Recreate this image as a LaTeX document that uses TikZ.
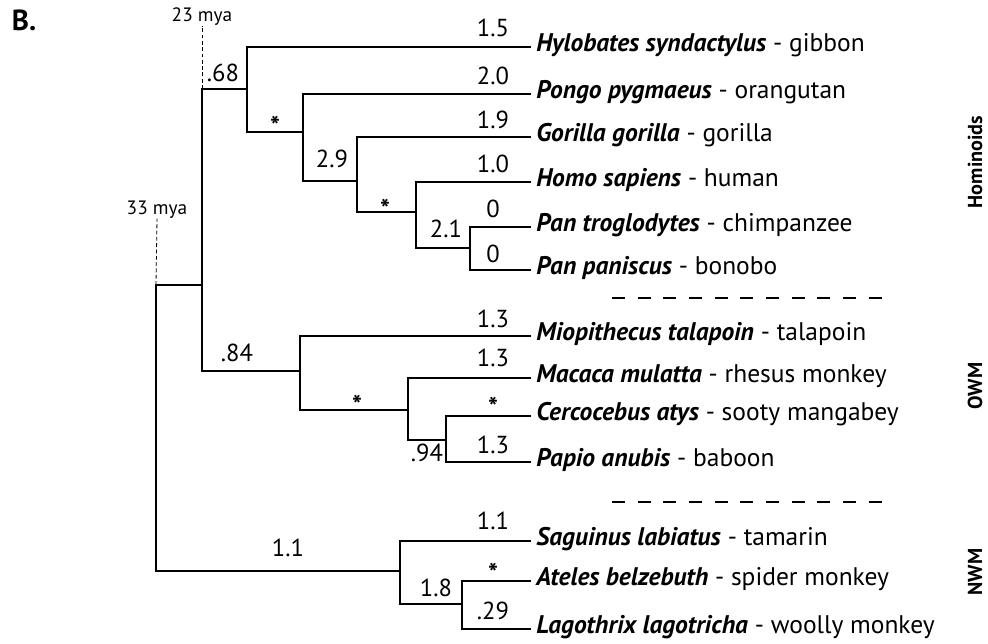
\documentclass[tikz,border=0pt]{standalone}
\usepackage{fontspec}
\setmainfont{PT Sans}
\tikzset{
  branch/.style={line width=0.75pt,line cap=rect},
  age/.style={dash pattern=on 2.2pt off 1.4pt,line width=0.45pt},
  sep/.style={dash pattern=on 7.4pt off 7.2pt,line width=0.75pt},
  sp/.style={anchor=base west,inner sep=0pt,xshift=3.4pt,yshift=-2.3pt,
    font=\fontsize{14.5}{16}\selectfont},
  len/.style={anchor=base,inner sep=0pt,font=\fontsize{14}{16}\selectfont},
  star/.style={anchor=north,inner sep=0pt,font=\fontsize{15}{16}\selectfont\bfseries},
  mya/.style={anchor=base,inner sep=0pt,font=\fontsize{11}{13}\selectfont},
  grp/.style={rotate=90,inner sep=0pt,font=\fontsize{11.5}{13}\selectfont\bfseries}
}
\newcommand{\taxon}[2]{\textbf{\textit{#1}} - #2}

\begin{document}
\begin{tikzpicture}[x=0.02cm,y=-0.02cm]
  \useasboundingbox (0,0) rectangle (988,644);
  \node[font=\fontsize{16.5}{18}\selectfont\bfseries] (panel) at (24,20) {B.};

  % internal nodes (where the stem meets the vertical)
  \coordinate (root) at (156,285);
  \coordinate (catar) at (202,285);
  \coordinate (homin) at (247,89);
  \coordinate (apes) at (303,132);
  \coordinate (afr) at (357,181);
  \coordinate (hp) at (416,212);
  \coordinate (pan) at (470,248);
  \coordinate (cerco) at (300,371);
  \coordinate (papio) at (408,410);
  \coordinate (cp) at (446,440);
  \coordinate (platy) at (400,571);
  \coordinate (atlag) at (462,604);

  % tips
  \coordinate (hsyn) at (530,47);
  \coordinate (ppyg) at (530,94);
  \coordinate (ggor) at (530,137);
  \coordinate (hsap) at (530,182);
  \coordinate (ptro) at (530,227);
  \coordinate (ppan) at (530,270);
  \coordinate (mtal) at (530,336);
  \coordinate (mmul) at (530,378);
  \coordinate (caty) at (530,416);
  \coordinate (panu) at (530,462);
  \coordinate (slab) at (530,541);
  \coordinate (abel) at (530,581);
  \coordinate (llag) at (530,629);

  % tree
  \draw[branch] (root) |- (catar);
  \draw[branch] (root) |- (platy);
  \draw[branch] (catar) |- (homin);
  \draw[branch] (catar) |- (cerco);
  \draw[branch] (homin) |- (hsyn);
  \draw[branch] (homin) |- (apes);
  \draw[branch] (apes) |- (ppyg);
  \draw[branch] (apes) |- (afr);
  \draw[branch] (afr) |- (ggor);
  \draw[branch] (afr) |- (hp);
  \draw[branch] (hp) |- (hsap);
  \draw[branch] (hp) |- (pan);
  \draw[branch] (pan) |- (ptro);
  \draw[branch] (pan) |- (ppan);
  \draw[branch] (cerco) |- (mtal);
  \draw[branch] (cerco) |- (papio);
  \draw[branch] (papio) |- (mmul);
  \draw[branch] (papio) |- (cp);
  \draw[branch] (cp) |- (caty);
  \draw[branch] (cp) |- (panu);
  \draw[branch] (platy) |- (slab);
  \draw[branch] (platy) |- (atlag);
  \draw[branch] (atlag) |- (abel);
  \draw[branch] (atlag) |- (llag);

  % divergence times
  \node[mya] (m23) at (202,22) {23 mya};
  \node[mya] (m33) at (157,215) {33 mya};
  \draw[age] (catar |- homin) -- ([yshift=-2pt]m23.base);
  \draw[age] (root) -- ([yshift=-2pt]m33.base);

  % species
  \node[sp] (t1) at (hsyn) {\taxon{Hylobates syndactylus}{gibbon}};
  \node[sp] (t2) at (ppyg) {\taxon{Pongo pygmaeus}{orangutan}};
  \node[sp] (t3) at (ggor) {\taxon{Gorilla gorilla}{gorilla}};
  \node[sp] (t4) at (hsap) {\taxon{Homo sapiens}{human}};
  \node[sp] (t5) at (ptro) {\taxon{Pan troglodytes}{chimpanzee}};
  \node[sp] (t6) at (ppan) {\taxon{Pan paniscus}{bonobo}};
  \node[sp] (t7) at (mtal) {\taxon{Miopithecus talapoin}{talapoin}};
  \node[sp] (t8) at (mmul) {\taxon{Macaca mulatta}{rhesus monkey}};
  \node[sp] (t9) at (caty) {\taxon{Cercocebus atys}{sooty mangabey}};
  \node[sp] (t10) at (panu) {\taxon{Papio anubis}{baboon}};
  \node[sp] (t11) at (slab) {\taxon{Saguinus labiatus}{tamarin}};
  \node[sp] (t12) at (abel) {\taxon{Ateles belzebuth}{spider monkey}};
  \node[sp] (t13) at (llag) {\taxon{Lagothrix lagotricha}{woolly monkey}};

  % branch lengths and support
  \node[len] (b1) at (493,37) {1.5};
  \node[len] (b2) at (493,85) {2.0};
  \node[len] (b3) at (493,129) {1.9};
  \node[len] (b4) at (493,173) {1.0};
  \node[len] (b5) at (493,218) {0};
  \node[len] (b6) at (493,263) {0};
  \node[len] (b7) at (223,82) {.68};
  \node[star] (b8) at (275,116) {*};
  \node[len] (b9) at (332,168) {2.9};
  \node[star] (b10) at (385,199) {*};
  \node[len] (b11) at (446,238) {2.1};
  \node[len] (b12) at (237,362) {.84};
  \node[star] (b13) at (357,395) {*};
  \node[len] (b14) at (427,462) {.94};
  \node[len] (b15) at (493,328) {1.3};
  \node[len] (b16) at (493,367) {1.3};
  \node[star] (b17) at (493,397) {*};
  \node[len] (b18) at (493,454) {1.3};
  \node[len] (b19) at (288,557) {1.1};
  \node[len] (b20) at (436,597) {1.8};
  \node[len] (b21) at (493,530) {1.1};
  \node[star] (b22) at (493,563) {*};
  \node[len] (b23) at (493,620) {.29};

  % group separators and names
  \coordinate (s1a) at (612,298);
  \coordinate (s1b) at (885,298);
  \coordinate (s2a) at (612,502);
  \coordinate (s2b) at (885,502);
  \draw[sep] (s1a) -- (s1b);
  \draw[sep] (s2a) -- (s2b);
  \node[grp] (hominoids) at (975,162) {Hominoids};
  \node[grp] (owm) at (975,386) {OWM};
  \node[grp] (nwm) at (975,572) {NWM};
\end{tikzpicture}
\end{document}
